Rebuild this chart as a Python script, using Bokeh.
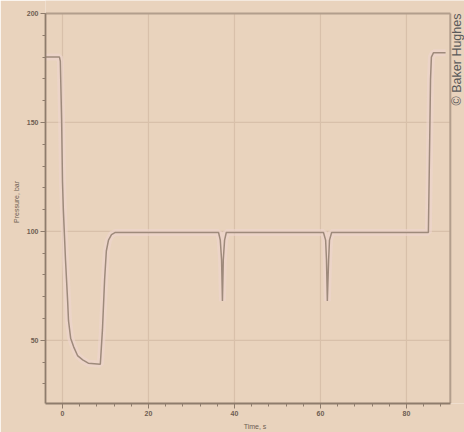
import math
from bokeh.plotting import figure
from bokeh.models import Range1d, FixedTicker, Label
from bokeh.embed import file_html
from bokeh.resources import INLINE

# Data
time_s = [-4.0, -0.7, -0.5, -0.2, 0.0, 0.2, 0.7, 1.2, 1.4, 1.9, 2.6, 3.5, 4.7, 6.0, 8.8,
          9.3, 9.8, 10.2, 10.7, 11.4, 12.3,
          36.3, 36.7, 37.0, 37.2, 37.4, 37.7, 38.1,
          60.7, 61.2, 61.4, 61.6, 61.9, 62.1, 62.6,
          85.1, 85.4, 85.6, 85.8, 86.3, 89.1]
pressure_bar = [180, 180, 178, 151, 123, 110, 87, 68, 59, 51, 47, 43, 41, 39.5, 39,
                55, 78, 91, 96, 98.5, 99.5,
                99.5, 96, 87, 68, 87, 96, 99.5,
                99.5, 96, 87, 68, 87, 96, 99.5,
                99.5, 141, 170, 180, 182, 182]

x_ticks = [0, 20, 40, 60, 80]
y_ticks = [50, 100, 150, 200]
x_label = "Time, s"
y_label = "Pressure, bar"
credit = "© Baker Hughes"

X_MIN, X_MAX = -3.95, 90.2      # plotted box
Y_MIN, Y_MAX = 21, 200
# ranges extend to the page edges so the credit text is not clipped
X_CANVAS_END = 93.5
Y_CANVAS_END = 205.96

BG = "#e9d3bd"
AX = "#8e7c6c"
BORDER = "#b29e8c"
GRID = "#d8c0aa"
CURVE = "#9e8a7b"
TXT = "#6e5e52"

p = figure(width=464, height=432, output_backend="svg", toolbar_location=None,
           x_range=Range1d(X_MIN, X_CANVAS_END), y_range=Range1d(Y_MIN, Y_CANVAS_END),
           min_border_left=45, min_border_right=0, min_border_top=0,
           min_border_bottom=29)
p.background_fill_color = BG
p.border_fill_color = BG
p.outline_line_color = None

p.xaxis.ticker = FixedTicker(ticks=x_ticks, minor_ticks=list(range(-4, 91, 4)))
p.yaxis.ticker = FixedTicker(ticks=y_ticks, minor_ticks=list(range(30, 201, 10)))
p.xaxis.bounds = (X_MIN, X_MAX)
p.yaxis.bounds = (Y_MIN, Y_MAX)

for ax in (p.xaxis, p.yaxis):
    ax.axis_line_color = AX
    ax.axis_line_width = 1.8
    ax.major_tick_line_color = AX
    ax.minor_tick_line_color = AX
    ax.major_tick_out = 5
    ax.major_tick_in = 0
    ax.minor_tick_out = 3
    ax.minor_tick_in = 0
    ax.major_label_text_font = "Liberation Sans"
    ax.major_label_text_font_size = "7px"
    ax.major_label_text_font_style = "bold"
    ax.major_label_text_color = TXT
    ax.major_label_standoff = 2
    ax.axis_label_text_font = "Liberation Sans"
    ax.axis_label_text_font_size = "7px"
    ax.axis_label_text_font_style = "normal"
    ax.axis_label_text_color = TXT
    ax.axis_label_standoff = 4

p.xaxis.axis_label = x_label
p.yaxis.axis_label = y_label
p.grid.grid_line_color = None

# grid lines limited to the plotted box
p.segment(x0=[X_MIN] * len(y_ticks), x1=[X_MAX] * len(y_ticks), y0=y_ticks, y1=y_ticks,
          line_color=GRID, line_width=1.2)
p.segment(x0=x_ticks, x1=x_ticks, y0=[Y_MIN] * len(x_ticks), y1=[Y_MAX] * len(x_ticks),
          line_color=GRID, line_width=1.2)
# top and right borders of the box
p.segment(x0=[X_MIN, X_MAX], x1=[X_MAX, X_MAX], y0=[Y_MAX, Y_MIN], y1=[Y_MAX, Y_MAX],
          line_color=BORDER, line_width=2)

# soft pinkish halo, then the curve
p.line(time_s, pressure_bar, line_color="#efd6cf", line_width=7, line_alpha=0.6)
p.line(time_s, pressure_bar, line_color=CURVE, line_width=1.5)

p.add_layout(Label(x=91.86, y=157.8, text=credit, angle=math.pi / 2,
                   text_align="left", text_baseline="middle",
                   text_font="Liberation Sans", text_font_size="12.5px",
                   text_color="#5a5a5a"))

open("out.html", "w").write(file_html(p, INLINE))
